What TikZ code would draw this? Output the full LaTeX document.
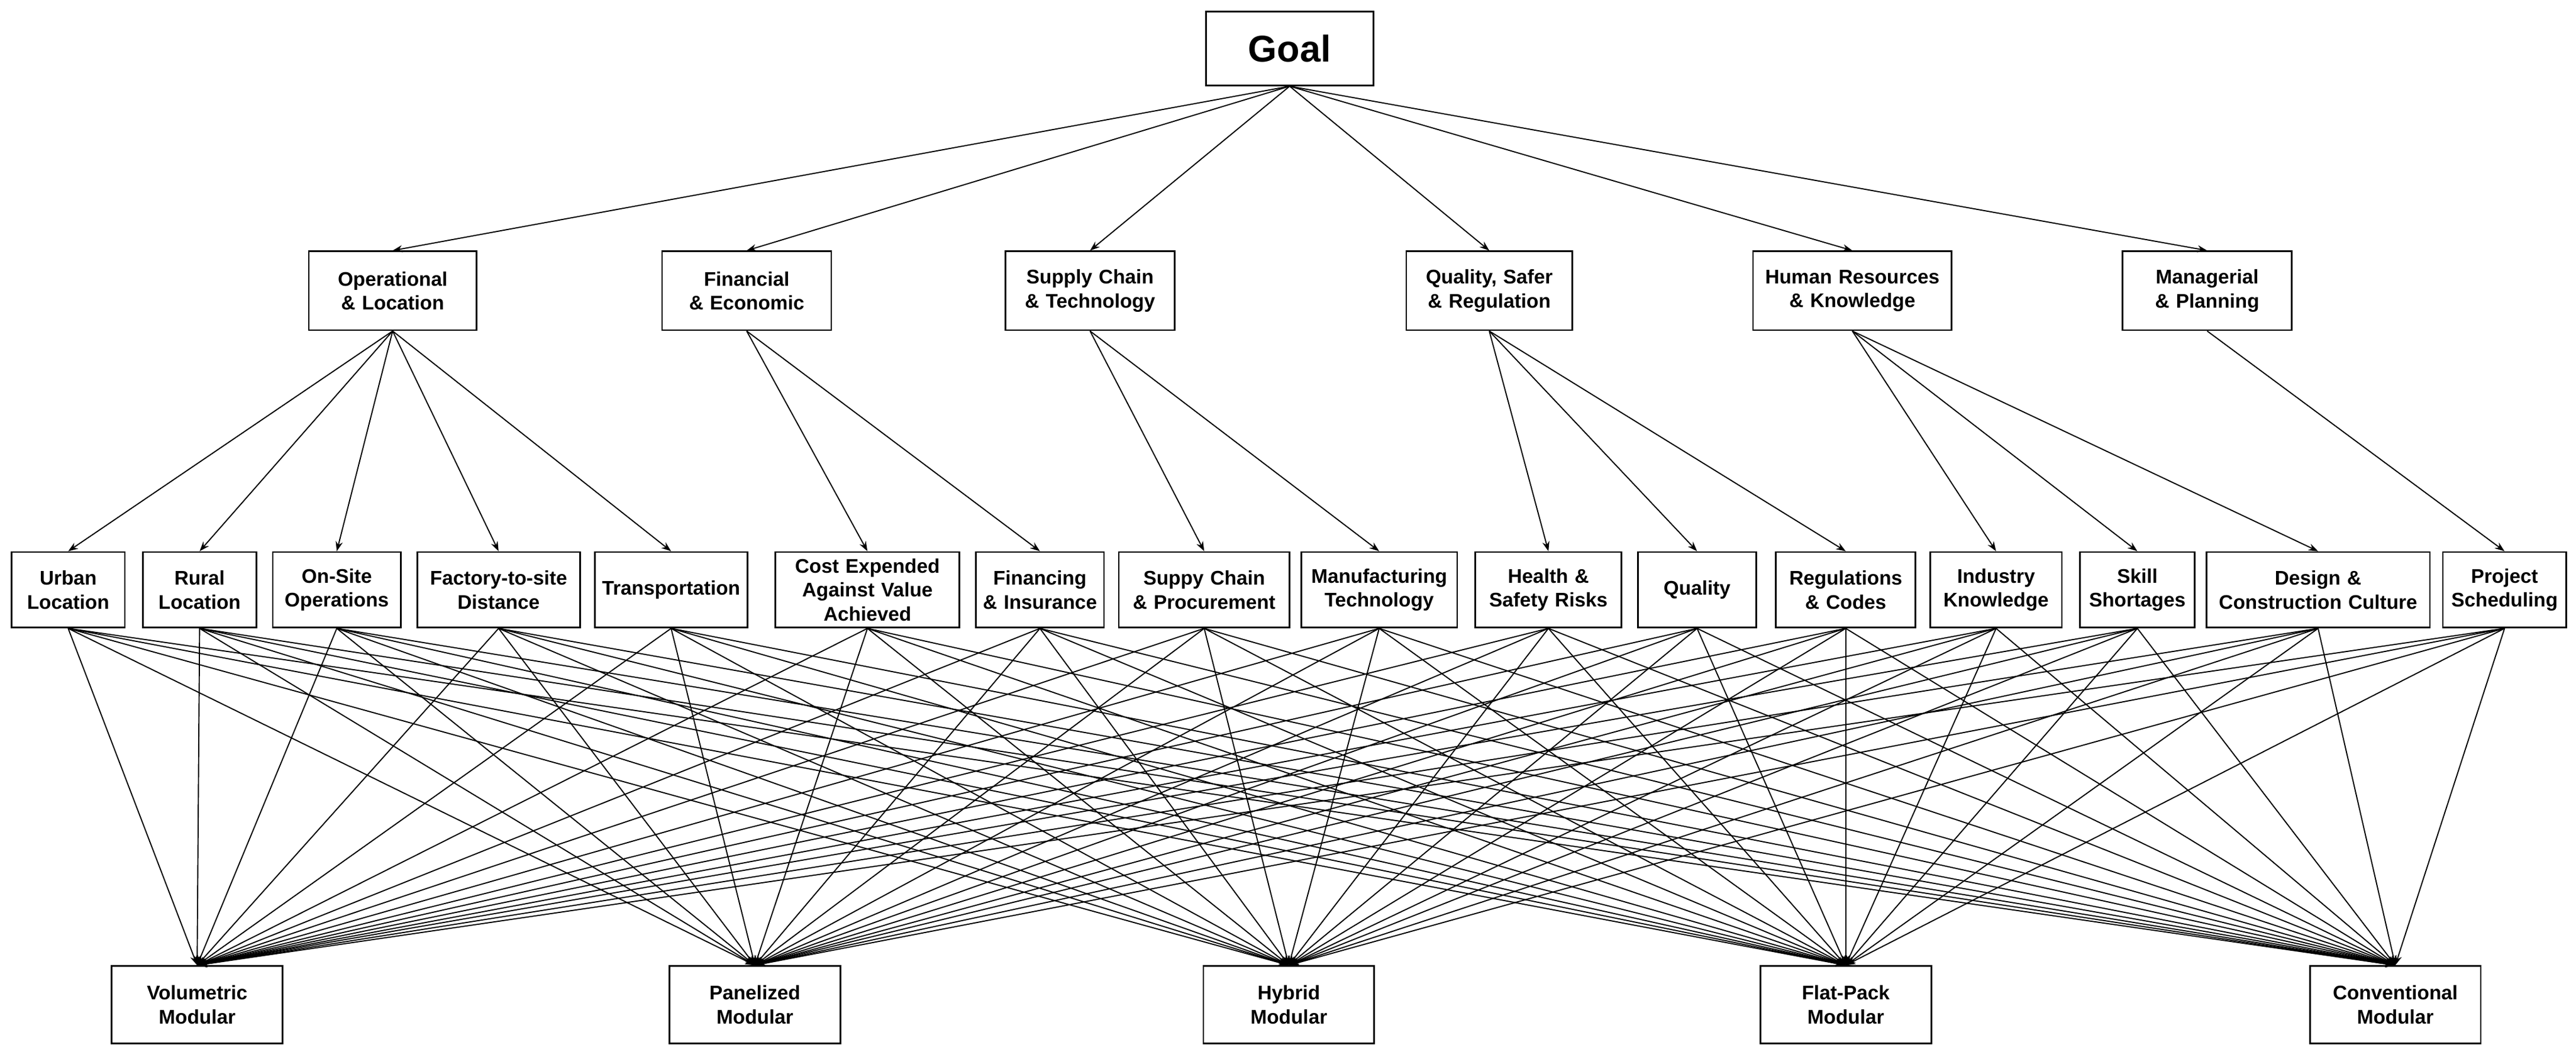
\documentclass[tikz,border=0pt]{standalone}
\usepackage{fontspec}
\setmainfont{Liberation Sans}
\usetikzlibrary{arrows.meta}
\begin{document}
\begin{tikzpicture}[x=0.017857cm,y=-0.017857cm,
    box/.style={draw,line width=0.5pt,align=center,font=\fontsize{6.1}{7.4}\selectfont\bfseries,inner sep=0pt},
    arr/.style={line width=0.35pt,-{Stealth[length=3pt,width=2.2pt]}}]
  \useasboundingbox (0,0) rectangle (1568,640);
  % goal
  \node[box,text width=102*0.017857cm,minimum height=45*0.017857cm,font=\fontsize{11.5}{13}\selectfont\bfseries] (g) at (785,29.5) {Goal};
  % criteria
  \foreach \n/\x/\w/\t in {c1/239/102/Operational\\\& Location, c2/454.5/103/Financial\\\& Economic, c3/663.5/103/Supply Chain\\\& Technology, c4/906.5/101/{Quality, Safer}\\\& Regulation, c5/1127.5/121/Human Resources\\\& Knowledge, c6/1343.5/103/Managerial\\\& Planning}
    \node[box,text width=\w*0.017857cm,minimum height=48*0.017857cm] (\n) at (\x,177) {\t};
  % sub-criteria
  \foreach \n/\x/\w/\t in {s1/41.5/69/Urban\\Location, s2/121.5/69/Rural\\Location, s3/205/78/On-Site\\Operations, s4/303.5/99/Factory-to-site\\Distance, s5/408.5/93/Transportation, s6/528/112/Cost Expended\\Against Value\\Achieved, s7/633/78/Financing\\\& Insurance, s8/733/104/Suppy Chain\\\& Procurement, s9/839.5/95/Manufacturing\\Technology, s10/942.5/89/Health \&\\Safety Risks, s11/1033/72/Quality, s12/1123.5/85/Regulations\\\& Codes, s13/1215/80/Industry\\Knowledge, s14/1301/70/Skill\\Shortages, s15/1411/136/Design \&\\Construction Culture, s16/1524.5/75/Project\\Scheduling}
    \node[box,text width=\w*0.017857cm,minimum height=46*0.017857cm] (\n) at (\x,359) {\t};
  % alternatives
  \foreach \n/\x/\t in {a1/120/Volumetric, a2/459.5/Panelized, a3/784.5/Hybrid, a4/1123.5/Flat-Pack, a5/1458/Conventional}
    \node[box,text width=104*0.017857cm,minimum height=47*0.017857cm] (\n) at (\x,611.5) {\t\\Modular};
  % goal to criteria
  \foreach \c in {c1,c2,c3,c4,c5,c6} \draw[arr] (g.south) -- (\c.north);
  % criteria to sub-criteria
  \foreach \c/\s in {c1/s1,c1/s2,c1/s3,c1/s4,c1/s5,c2/s6,c2/s7,c3/s8,c3/s9,c4/s10,c4/s11,c4/s12,c5/s13,c5/s14,c5/s15,c6/s16}
    \draw[arr] (\c.south) -- (\s.north);
  % sub-criteria to alternatives
  \foreach \s in {s1,s2,s3,s4,s5,s6,s7,s8,s9,s10,s11,s12,s13,s14,s15,s16}
    \foreach \a in {a1,a2,a3,a4,a5}
      \draw[arr] (\s.south) -- (\a.north);
\end{tikzpicture}
\end{document}
